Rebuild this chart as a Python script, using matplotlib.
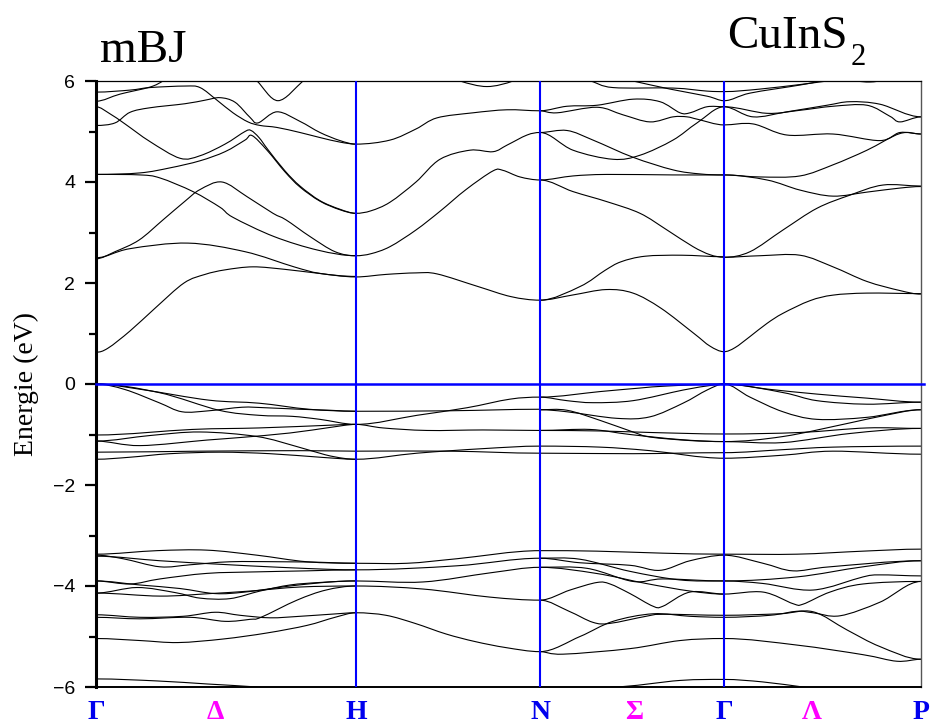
import numpy as np
import matplotlib
matplotlib.use("Agg")
import matplotlib.pyplot as plt
from matplotlib.path import Path
from matplotlib.patches import PathPatch
import matplotlib.transforms as mtransforms

# chemin dans la zone de Brillouin (unites arbitraires)
k_points = [0.0, 2.60, 4.44, 6.28, 8.25]
k_labels = ['Γ', 'H', 'N', 'Γ', 'P']
mid_k = [1.19, 5.38, 7.16]
mid_labels = ['Δ', 'Σ', 'Λ']

# bandes de conduction, segment par segment : listes de (k, E en eV)
cb_gamma_h = [
    [(0, 0.63), (0.12, 0.71), (0.34, 1.05), (0.59, 1.5), (0.88, 2.0), (1.09, 2.17),
     (1.29, 2.26), (1.57, 2.32), (1.89, 2.27), (2.19, 2.2), (2.60, 2.12)],
    [(0, 2.50), (0.34, 2.68), (0.92, 2.79), (1.49, 2.62), (1.98, 2.32), (2.24, 2.19), (2.60, 2.13)],
    [(0, 2.48), (0.19, 2.62), (0.43, 2.85), (0.67, 3.25), (0.89, 3.62), (1.04, 3.85), (1.26, 4.0),
     (1.51, 3.71), (1.77, 3.38), (1.90, 3.25), (2.14, 2.92), (2.39, 2.62), (2.60, 2.54)],
    [(0, 4.15), (0.44, 4.14), (0.64, 4.08), (0.97, 3.81), (1.24, 3.5), (1.37, 3.3),
     (1.78, 2.92), (2.22, 2.65), (2.60, 2.54)],
    [(0, 4.15), (0.44, 4.18), (0.74, 4.28), (1.04, 4.42), (1.29, 4.6), (1.49, 4.83), (1.56, 4.92),
     (1.71, 4.63), (1.89, 4.2), (2.04, 3.9), (2.24, 3.62), (2.44, 3.45), (2.60, 3.38)],
    [(0, 5.49), (0.14, 5.35), (0.29, 5.15), (0.54, 4.8), (0.84, 4.47), (1.04, 4.52), (1.29, 4.75),
     (1.49, 5.0), (1.55, 5.02), (1.63, 4.88), (1.72, 4.64), (1.89, 4.22), (2.04, 3.92),
     (2.24, 3.63), (2.44, 3.46), (2.60, 3.38)],
    [(0, 5.12), (0.19, 5.17), (0.34, 5.38), (0.54, 5.47), (0.89, 5.55), (1.09, 5.62), (1.24, 5.67),
     (1.39, 5.58), (1.54, 5.28), (1.62, 5.17), (1.81, 5.39), (2.04, 5.2), (2.24, 4.98),
     (2.44, 4.82), (2.60, 4.75)],
    [(0, 5.78), (0.34, 5.82), (0.54, 5.87), (0.89, 5.9), (1.04, 5.87), (1.21, 5.62), (1.37, 5.37),
     (1.52, 5.19), (1.64, 5.12), (1.81, 5.08), (2.04, 4.98), (2.24, 4.88), (2.44, 4.79), (2.60, 4.75)],
    [(0, 5.60), (0.24, 5.74), (0.54, 5.88), (0.67, 6.0), (0.79, 6.15)],
    [(1.44, 6.3), (1.61, 6.0), (1.82, 5.61), (2.07, 6.0), (2.24, 6.3)],
]

cb_h_n = [
    [(2.60, 2.12), (2.90, 2.17), (3.2, 2.2), (3.41, 2.18), (3.82, 1.93), (4.15, 1.73), (4.44, 1.66)],
    [(2.60, 2.54), (2.75, 2.58), (2.94, 2.72), (3.2, 3.05), (3.44, 3.42), (3.7, 3.85),
     (3.97, 4.22), (4.07, 4.23), (4.24, 4.1), (4.44, 4.04)],
    [(2.60, 3.38), (2.75, 3.43), (2.94, 3.6), (3.2, 4.0), (3.44, 4.45), (3.74, 4.63),
     (3.97, 4.6), (4.11, 4.73), (4.31, 4.93), (4.44, 4.98)],
    [(2.60, 4.75), (2.94, 4.83), (3.2, 5.05), (3.41, 5.27), (3.77, 5.37), (4.11, 5.43), (4.44, 5.41)],
    [(3.4, 6.2), (3.64, 6.0), (3.91, 5.89), (4.17, 6.0), (4.35, 6.2)],
]

cb_n_gamma = [
    [(4.44, 1.66), (4.76, 1.76), (5.10, 1.87), (5.37, 1.8), (5.65, 1.5), (5.98, 1.0),
     (6.14, 0.75), (6.28, 0.64)],
    [(4.44, 1.66), (4.84, 1.93), (5.09, 2.25), (5.25, 2.42), (5.49, 2.53), (5.86, 2.55), (6.28, 2.52)],
    [(4.44, 4.04), (4.77, 4.12), (5.11, 4.15), (5.77, 4.14), (6.28, 4.14)],
    [(4.44, 4.04), (4.77, 3.81), (5.11, 3.61), (5.44, 3.38), (5.71, 3.05), (5.97, 2.72),
     (6.14, 2.56), (6.28, 2.51)],
    [(4.44, 4.98), (4.71, 5.02), (4.97, 4.83), (5.37, 4.49), (5.77, 4.24), (6.04, 4.16), (6.28, 4.14)],
    [(4.44, 4.98), (4.77, 4.63), (5.17, 4.45), (5.44, 4.53), (5.77, 4.83), (6.01, 5.17), (6.28, 5.49)],
    [(4.44, 5.41), (4.71, 5.5), (5.01, 5.52), (5.37, 5.64), (5.64, 5.59), (5.84, 5.37),
     (5.94, 5.37), (6.11, 5.49), (6.28, 5.49)],
    [(4.44, 5.41), (4.61, 5.37), (5.01, 5.48), (5.27, 5.33), (5.54, 5.19), (5.77, 5.29),
     (5.91, 5.29), (6.02, 5.24), (6.28, 5.13)],
    [(4.64, 6.1), (4.94, 6.0), (5.17, 5.87), (5.77, 5.86), (6.11, 5.8), (6.28, 5.79)],
    [(5.19, 6.08), (5.37, 6.0), (5.74, 5.84), (6.11, 5.7), (6.28, 5.61)],
]

cb_gamma_p = [
    [(6.28, 0.64), (6.39, 0.72), (6.54, 0.94), (6.71, 1.2), (6.87, 1.4), (7.14, 1.65),
     (7.37, 1.76), (7.71, 1.8), (8.25, 1.79)],
    [(6.28, 2.51), (6.64, 2.54), (7.04, 2.55), (7.37, 2.32), (7.71, 2.03), (8.04, 1.85), (8.25, 1.78)],
    [(6.28, 2.51), (6.54, 2.62), (6.87, 3.05), (7.21, 3.48), (7.54, 3.74), (7.87, 3.94), (8.25, 3.92)],
    [(6.28, 4.14), (6.64, 4.1), (7.04, 4.12), (7.37, 4.34), (7.71, 4.63), (8.04, 4.96), (8.25, 4.95)],
    [(6.28, 4.14), (6.71, 4.04), (7.04, 3.84), (7.37, 3.72), (7.71, 3.8), (8.04, 3.88), (8.25, 3.91)],
    [(6.28, 5.13), (6.57, 5.15), (6.91, 4.93), (7.37, 4.95), (7.84, 4.82), (8.04, 4.98), (8.25, 4.95)],
    [(6.28, 5.49), (6.57, 5.29), (6.91, 5.39), (7.31, 5.52), (7.54, 5.59), (7.84, 5.54), (8.25, 5.29)],
    [(6.28, 5.49), (6.71, 5.36), (7.04, 5.42), (7.37, 5.5), (7.71, 5.52), (7.94, 5.3),
     (8.04, 5.19), (8.25, 5.29)],
    [(6.28, 5.61), (6.54, 5.76), (7.04, 5.92), (7.24, 6.0), (7.44, 6.1)],
    [(6.28, 5.79), (6.64, 5.84), (7.04, 5.93), (7.44, 6.02), (7.74, 5.98), (8.04, 6.05)],
]

# bandes de valence (haut)
vb_gamma_h = [
    [(0, 0.0), (0.46, -0.11), (1.13, -0.32), (1.63, -0.38), (2.13, -0.50), (2.60, -0.54)],
    [(0, 0.0), (0.29, -0.11), (0.63, -0.37), (0.86, -0.55), (1.13, -0.53), (1.46, -0.46),
     (1.69, -0.47), (2.04, -0.50), (2.34, -0.52), (2.60, -0.54)],
    [(0, 0.0), (0.63, -0.17), (1.23, -0.52), (1.63, -0.62), (1.96, -0.64), (2.24, -0.70), (2.60, -0.80)],
    [(0, -1.01), (0.96, -0.90), (1.63, -0.87), (2.29, -0.82), (2.60, -0.80)],
    [(0, -1.13), (0.54, -1.02), (1.04, -0.95), (1.61, -1.04), (2.01, -1.24), (2.29, -1.4),
     (2.47, -1.47), (2.60, -1.49)],
    [(0, -1.13), (0.44, -1.22), (1.11, -1.11), (1.44, -1.06), (1.94, -0.97), (2.34, -0.86), (2.60, -0.80)],
    [(0, -1.35), (1.04, -1.33), (2.04, -1.32), (2.60, -1.33)],
    [(0, -1.49), (0.34, -1.45), (0.74, -1.38), (1.24, -1.35), (1.74, -1.38), (2.24, -1.45), (2.60, -1.49)],
]

vb_h_n = [
    [(2.60, -0.80), (3.21, -0.62), (3.71, -0.47), (4.14, -0.30), (4.44, -0.26)],
    [(2.60, -0.54), (3.54, -0.53), (4.44, -0.50)],
    [(2.60, -0.80), (2.87, -0.87), (3.31, -0.92), (3.87, -0.91), (4.44, -0.92)],
    [(2.60, -1.33), (3.54, -1.33), (4.44, -1.37)],
    [(2.60, -1.49), (3.21, -1.37), (3.87, -1.28), (4.44, -1.23)],
]

vb_n_gamma = [
    [(4.44, -0.26), (5.04, -0.15), (5.44, -0.08), (5.71, -0.04), (6.28, 0.0)],
    [(4.44, -0.26), (4.71, -0.33), (4.97, -0.37), (5.37, -0.33), (5.87, -0.12), (6.14, -0.03), (6.28, 0.0)],
    [(4.44, -0.51), (4.71, -0.55), (5.21, -0.68), (5.54, -0.65), (5.87, -0.38), (6.11, -0.12), (6.28, 0.0)],
    [(4.44, -0.51), (4.71, -0.52), (5.04, -0.72), (5.37, -0.95), (5.54, -1.05), (5.94, -1.12), (6.28, -1.14)],
    [(4.44, -0.92), (5.04, -0.93), (5.54, -0.96), (6.28, -0.99)],
    [(4.44, -0.92), (4.94, -0.9), (5.34, -1.0), (5.84, -1.1), (6.28, -1.14)],
    [(4.44, -1.23), (5.04, -1.25), (5.54, -1.32), (6.28, -1.47)],
    [(4.44, -1.37), (5.37, -1.38), (6.28, -1.36)],
]

vb_gamma_p = [
    [(6.28, 0.0), (6.71, -0.1), (7.21, -0.2), (7.71, -0.28), (8.25, -0.36)],
    [(6.28, 0.0), (6.87, -0.17), (7.21, -0.33), (7.71, -0.40), (8.25, -0.36)],
    [(6.28, 0.0), (6.54, -0.26), (6.87, -0.55), (7.21, -0.7), (7.71, -0.66), (8.25, -0.51)],
    [(6.28, -0.99), (7.04, -0.96), (7.71, -0.87), (8.25, -0.88)],
    [(6.28, -1.14), (6.87, -1.04), (7.54, -0.77), (7.87, -0.63), (8.25, -0.51)],
    [(6.28, -1.14), (6.87, -1.16), (7.54, -0.98), (8.25, -0.88)],
    [(6.28, -1.36), (6.87, -1.3), (7.37, -1.25), (8.25, -1.23)],
    [(6.28, -1.47), (6.87, -1.41), (7.37, -1.33), (8.25, -1.39)],
]

# bandes de valence (bas)
low_gamma_h = [
    [(0, -3.37), (0.61, -3.30), (1.11, -3.29), (1.61, -3.39), (2.11, -3.52), (2.60, -3.55)],
    [(0, -3.39), (0.27, -3.46), (0.64, -3.62), (0.94, -3.58), (1.34, -3.52), (1.84, -3.52),
     (2.24, -3.53), (2.60, -3.55)],
    [(0, -3.41), (0.64, -3.5), (1.24, -3.57), (1.84, -3.63), (2.34, -3.67), (2.60, -3.68)],
    [(0, -3.90), (0.34, -3.96), (0.64, -3.86), (1.11, -3.75), (1.61, -3.72), (2.11, -3.7), (2.60, -3.68)],
    [(0, -3.90), (0.44, -3.98), (0.84, -4.05), (1.19, -4.15), (1.49, -4.12), (1.94, -4.0),
     (2.34, -3.92), (2.60, -3.90)],
    [(0, -4.14), (0.41, -4.03), (0.79, -4.13), (1.04, -4.24), (1.34, -4.25), (1.64, -4.1),
     (1.94, -3.98), (2.24, -3.93), (2.60, -3.90)],
    [(0, -4.14), (0.64, -4.2), (1.14, -4.15), (1.54, -4.1), (2.04, -4.02), (2.60, -4.0)],
    [(0, -4.57), (0.44, -4.62), (0.87, -4.60), (1.19, -4.52), (1.44, -4.58), (1.74, -4.63),
     (2.04, -4.6), (2.34, -4.56), (2.60, -4.53)],
    [(0, -4.62), (0.44, -4.65), (0.94, -4.62), (1.29, -4.70), (1.54, -4.66), (1.65, -4.62),
     (2.01, -4.28), (2.30, -4.08), (2.60, -4.0)],
    [(0, -5.04), (0.44, -5.08), (0.82, -5.12), (1.27, -5.05), (1.71, -4.93), (2.11, -4.78),
     (2.39, -4.62), (2.60, -4.53)],
    [(0, -5.84), (0.61, -5.88), (1.11, -5.94), (1.61, -6.0), (1.84, -6.05)],
]

low_h_n = [
    [(2.60, -3.55), (3.11, -3.55), (3.61, -3.46), (4.44, -3.30)],
    [(2.60, -3.68), (3.61, -3.6), (4.44, -3.45)],
    [(2.60, -3.90), (3.27, -3.92), (3.94, -3.74), (4.44, -3.63)],
    [(2.60, -4.0), (3.27, -4.06), (3.94, -4.22), (4.44, -4.28)],
    [(2.60, -4.53), (2.9, -4.58), (3.19, -4.74), (3.5, -4.95), (3.79, -5.1), (4.1, -5.22), (4.44, -5.3)],
]

low_n_gamma = [
    [(4.44, -3.30), (5.01, -3.31), (5.67, -3.35), (6.28, -3.37)],
    [(4.44, -3.45), (4.84, -3.54), (5.34, -3.59), (5.64, -3.69), (5.94, -3.5), (6.28, -3.39)],
    [(4.44, -3.45), (4.84, -3.47), (5.34, -3.71), (5.84, -3.88), (6.28, -3.90)],
    [(4.44, -3.63), (4.91, -3.65), (5.37, -3.91), (5.67, -3.86), (6.28, -3.90)],
    [(4.44, -4.28), (4.74, -4.08), (5.01, -3.93), (5.14, -3.96), (5.34, -4.15), (5.57, -4.40),
     (5.67, -4.40), (5.94, -4.12), (6.28, -4.16)],
    [(4.44, -3.63), (5.0, -3.75), (5.5, -3.95), (5.94, -4.1), (6.28, -4.16)],
    [(4.44, -4.28), (4.73, -4.5), (4.97, -4.72), (5.14, -4.74), (5.5, -4.6), (5.67, -4.56), (6.28, -4.58)],
    [(4.44, -5.3), (4.84, -5.0), (5.17, -4.7), (5.57, -4.55), (5.94, -4.6), (6.28, -4.62)],
    [(4.44, -5.3), (4.67, -5.35), (5.34, -5.24), (5.84, -5.08), (6.28, -5.04)],
    [(5.14, -6.0), (5.84, -5.87), (6.28, -5.85)],
]

low_gamma_p = [
    [(6.28, -3.37), (7.01, -3.37), (7.67, -3.31), (8.25, -3.27)],
    [(6.28, -3.39), (6.67, -3.55), (6.97, -3.70), (7.34, -3.62), (8.25, -3.50)],
    [(6.28, -3.90), (7.01, -3.82), (7.67, -3.62), (8.25, -3.50)],
    [(6.28, -3.90), (6.67, -3.95), (7.17, -4.08), (7.67, -3.82), (7.84, -3.78), (8.25, -3.80)],
    [(6.28, -4.16), (6.67, -4.12), (6.97, -4.35), (7.07, -4.36), (7.34, -4.12), (7.67, -3.96), (8.25, -3.91)],
    [(6.28, -4.62), (6.74, -4.58), (7.01, -4.50), (7.17, -4.53), (7.44, -4.59), (7.84, -4.32), (8.25, -3.91)],
    [(6.28, -4.58), (6.84, -4.55), (7.17, -4.51), (7.51, -4.87), (7.84, -5.2), (8.25, -5.45)],
    [(6.28, -5.04), (7.01, -5.17), (7.67, -5.36), (8.01, -5.49), (8.25, -5.45)],
    [(6.28, -5.85), (6.67, -5.90), (7.07, -6.0), (7.3, -6.05)],
]


def courbe_lisse(pts):
    """Chemin de Bezier (Catmull-Rom) passant par les points lus"""
    P = np.array(pts, dtype=float)
    n = len(P)
    verts = [P[0]]
    codes = [Path.MOVETO]
    for i in range(n - 1):
        p1, p2 = P[i], P[i + 1]
        dx = p2[0] - p1[0]
        if i == 0:
            c1 = p1 + np.array([dx / 3.0, 0.0])  # tangente plate au point de symetrie
        else:
            c1 = p1 + (p2 - P[i - 1]) / 6.0
        if i + 2 >= n:
            c2 = p2 - np.array([dx / 3.0, 0.0])
        else:
            c2 = p2 - (P[i + 2] - p1) / 6.0
        verts += [c1, c2, p2]
        codes += [Path.CURVE4] * 3
    return Path(verts, codes)


fig = plt.figure(figsize=(9.3, 7.24), dpi=100)
ax = fig.add_axes([96 / 930, 37 / 724, 825 / 930, 606 / 724])

segments = [cb_gamma_h, cb_h_n, cb_n_gamma, cb_gamma_p,
            vb_gamma_h, vb_h_n, vb_n_gamma, vb_gamma_p,
            low_gamma_h, low_h_n, low_n_gamma, low_gamma_p]
for seg in segments:
    for band in seg:
        ax.add_patch(PathPatch(courbe_lisse(band), facecolor='none',
                               edgecolor='black', lw=0.8, zorder=2))

# lignes de symetrie et niveau de Fermi
for k in k_points[1:-1]:
    ax.axvline(k, color='#0000ff', lw=1.5, zorder=3)
ax.axhline(0, xmin=0, xmax=1.004, color='#0000ff', lw=1.8, zorder=3, clip_on=False)

ax.set_xlim(k_points[0], k_points[-1])
ax.set_ylim(-6, 6)

ax.set_yticks(np.arange(-6, 7, 2))
ax.set_yticks(np.arange(-5, 6, 2), minor=True)
ax.set_xticks([])
ax.tick_params(axis='y', which='major', direction='out', length=8, width=1.6,
               pad=7, labelsize=14, right=False)
ax.tick_params(axis='y', which='minor', direction='out', length=5, width=1.6, right=False)
for lab in ax.get_yticklabels():
    lab.set_family(['Liberation Sans', 'DejaVu Sans'])

ax.spines['left'].set_linewidth(2.2)
ax.spines['bottom'].set_linewidth(1.4)
ax.spines['top'].set_linewidth(0.9)
ax.spines['right'].set_linewidth(1.0)
ax.spines['right'].set_color('#555555')

serif = ['Liberation Serif', 'DejaVu Serif']
ax.set_ylabel('Energie (eV)', fontsize=20, family=serif, labelpad=10)

trans = mtransforms.blended_transform_factory(ax.transData, ax.transAxes)
for k, lab in zip(k_points, k_labels):
    ax.text(k, -0.042, lab, transform=trans, ha='center', va='center',
            fontsize=20, fontweight='bold', color='#0000ee', family=serif, clip_on=False)
for k, lab in zip(mid_k, mid_labels):
    ax.text(k, -0.042, lab, transform=trans, ha='center', va='center',
            fontsize=20, fontweight='bold', color='#ff00ff', family=serif, clip_on=False)

fig.text(100 / 930, 1 - 62 / 724, 'mBJ', fontsize=34, family=serif, ha='left', va='baseline')
fig.text(727 / 930, 1 - 48 / 724, 'CuInS', fontsize=34, family=serif, ha='left', va='baseline')
fig.text(851 / 930, 1 - 65 / 724, '2', fontsize=22, family=serif, ha='left', va='baseline')

fig.savefig('out.png', dpi=100)
